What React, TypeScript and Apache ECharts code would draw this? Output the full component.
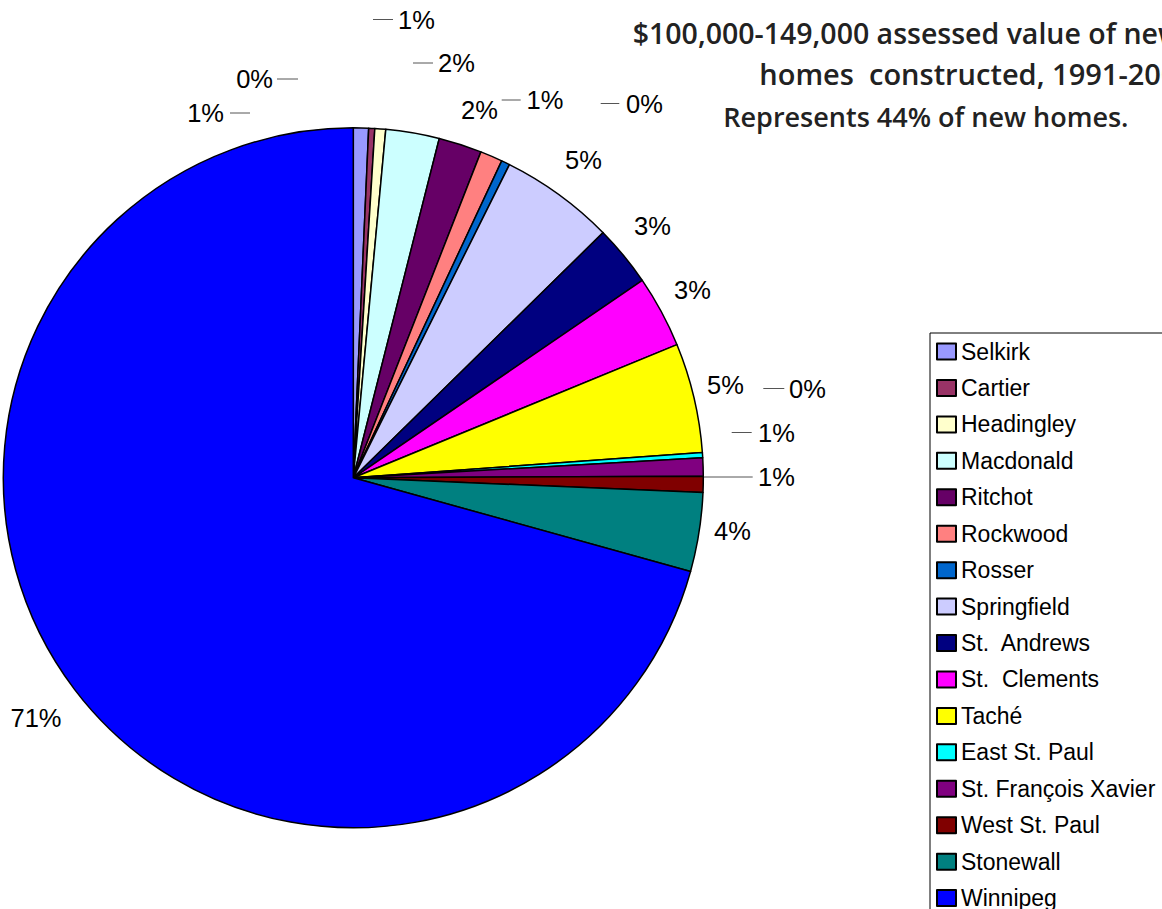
import React, { useEffect, useRef } from 'react';
import * as echarts from 'echarts';

const categories = [
  'Selkirk', 'Cartier', 'Headingley', 'Macdonald', 'Ritchot', 'Rockwood', 'Rosser',
  'Springfield', 'St.  Andrews', 'St.  Clements', 'Taché', 'East St. Paul',
  'St. François Xavier', 'West St. Paul', 'Stonewall', 'Winnipeg',
];
const shares = [0.7, 0.28, 0.5, 2.47, 1.99, 1.03, 0.39, 5.29, 2.81, 3.33, 5.06, 0.24, 0.84, 0.74, 3.64, 70.69];
const colors = [
  '#9999FF', '#993366', '#FFFFCC', '#CCFFFF', '#660066', '#FF8080', '#0066CC',
  '#CCCCFF', '#000080', '#FF00FF', '#FFFF00', '#00FFFF', '#800080', '#800000', '#008080', '#0000FF',
];
const titleLines = [
  '$100,000-149,000 assessed value of new',
  'homes  constructed, 1991-2001',
  'Represents 44% of new homes.',
];

// label placement (layout only): [x, y, align, dashFrom, dashTo]
const labelPlacement: Array<[number, number, string, number | null, number | null]> = [
  [224, 113, 'right', 230, 250],
  [273, 79, 'right', 277, 298],
  [398, 19.5, 'left', 373, 393],
  [438, 63, 'left', 413, 433],
  [461, 109.5, 'left', null, null],
  [526.5, 100, 'left', 501.7, 520.7],
  [626, 103.5, 'left', 600.7, 619.3],
  [565, 160, 'left', null, null],
  [634, 226, 'left', null, null],
  [674, 290, 'left', null, null],
  [707, 385, 'left', null, null],
  [789, 388.5, 'left', 763.3, 784.3],
  [758, 432.5, 'left', 731.7, 751.7],
  [758, 477, 'left', 703.3, 752.7],
  [714, 530.5, 'left', null, null],
  [10.5, 717.5, 'left', null, null],
];
const titlePos: Array<[number, number, number]> = [[632.7, 33, 28.5], [759.3, 73.3, 29], [723.3, 116, 27]];

export default function App() {
  const ref = useRef<HTMLDivElement>(null);
  useEffect(() => {
    if (!ref.current) return;
    const chart = echarts.init(ref.current, undefined, { renderer: 'svg' });
    chart.setOption({
      animation: false,
      backgroundColor: '#ffffff',
      legend: {
        orient: 'vertical',
        left: 930,
        top: 333,
        height: 800,
        padding: [7, 8, 7, 6],
        borderColor: '#000',
        borderWidth: 1,
        itemWidth: 19,
        itemHeight: 16,
        itemGap: 13.44,
        icon: 'rect',
        selectedMode: false,
        itemStyle: { borderColor: '#000', borderWidth: 2 },
        textStyle: { fontFamily: 'Liberation Sans', fontSize: 23, color: '#000', lineHeight: 22 },
        data: categories,
      },
      graphic: titleLines.map((t, i) => ({
        type: 'text',
        x: titlePos[i][0],
        y: titlePos[i][1],
        style: {
          text: t,
          fontFamily: 'Open Sans',
          fontWeight: 600,
          fontSize: titlePos[i][2],
          fill: '#222',
          verticalAlign: 'middle',
        },
      })),
      series: [
        {
          type: 'pie',
          center: [353.3, 477.8],
          radius: 350,
          startAngle: 90,
          clockwise: true,
          avoidLabelOverlap: false,
          percentPrecision: 0,
          emphasis: { disabled: true },
          itemStyle: { borderColor: '#000', borderWidth: 1.5 },
          label: {
            show: true,
            position: 'outside',
            formatter: '{d}%',
            color: '#000',
            fontFamily: 'Liberation Sans',
            fontSize: 25.5,
          },
          labelLine: { show: true, lineStyle: { color: '#555', width: 1 } },
          labelLayout: (p: any) => {
            const [x, y, align, d1, d2] = labelPlacement[p.dataIndex];
            const r: any = { x, y, align, verticalAlign: 'middle' };
            if (d1 !== null) r.labelLinePoints = [[d1, y], [d1, y], [d2, y]];
            return r;
          },
          data: categories.map((name, i) => ({
            name,
            value: shares[i],
            itemStyle: { color: colors[i] },
            labelLine: { show: labelPlacement[i][3] !== null },
          })),
        },
      ],
    });
    return () => chart.dispose();
  }, []);
  return (
    <div
      ref={ref}
      style={{ position: 'fixed', left: 0, top: 0, width: 1162, height: 909 }}
    />
  );
}
